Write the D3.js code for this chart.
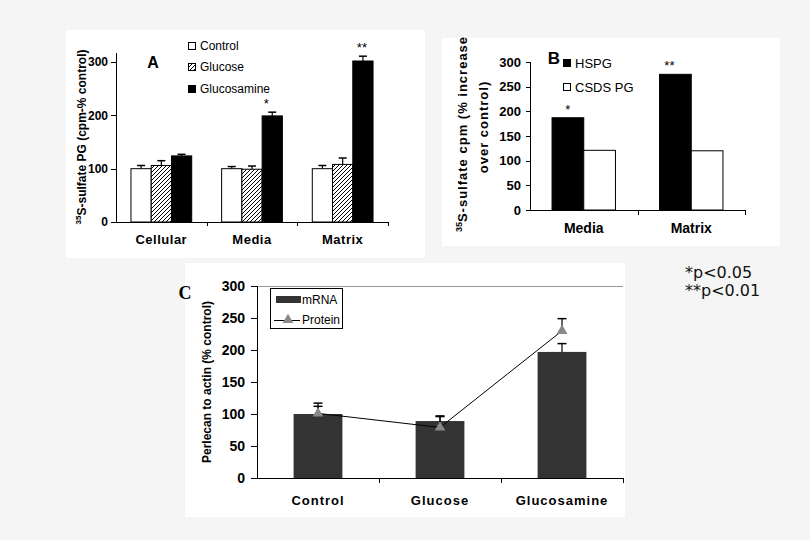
<!DOCTYPE html>
<html><head><meta charset="utf-8">
<script src="https://cdn.jsdelivr.net/npm/d3@7"></script>
<style>html,body{margin:0;padding:0;background:#f5f5f5;}svg{display:block;font-family:"Liberation Sans",Arial,sans-serif;}</style>
</head><body>
<svg id="chart" width="810" height="540"></svg>
<script>
// ---------- Panel A data ----------
const catsA = ["Cellular", "Media", "Matrix"];
const seriesA = ["Control", "Glucose", "Glucosamine"];
const controlA = [100, 100, 100];
const controlErrA = [6, 4, 6];
const glucoseA = [106, 99, 108];
const glucoseErrA = [9, 6, 12];
const glucosamineA = [124, 199, 302];
const glucosamineErrA = [3, 7, 9];
const sigA = ["", "*", "**"];
const ticksA = [0, 100, 200, 300];

// ---------- Panel B data ----------
const catsB = ["Media", "Matrix"];
const seriesB = ["HSPG", "CSDS PG"];
const hspgB = [187, 275];
const csdsB = [121, 120];
const sigB = ["*", "**"];
const ticksB = [0, 50, 100, 150, 200, 250, 300];

// ---------- Panel C data ----------
const catsC = ["Control", "Glucose", "Glucosamine"];
const seriesC = ["mRNA", "Protein"];
const mrnaC = [100, 89, 197];
const mrnaErrC = [12, 8, 13];
const proteinC = [101, 79, 230];
const proteinErrC = [16, 17, 19];
const ticksC = [0, 50, 100, 150, 200, 250, 300];

const pNotes = ["*p<0.05", "**p<0.01"];

const svg = d3.select("#chart");
svg.append("rect").attr("width", 810).attr("height", 540).attr("fill", "#f5f5f5");

const defs = svg.append("defs");
const pat = defs.append("pattern").attr("id", "hatch").attr("patternUnits", "userSpaceOnUse")
  .attr("width", 4).attr("height", 4);
pat.append("rect").attr("width", 4).attr("height", 4).attr("fill", "#fff");
pat.append("path").attr("d", "M-1,1 l2,-2 M0,4 l4,-4 M3,5 l2,-2").attr("stroke", "#000").attr("stroke-width", 1);

// white panels
[[66, 30, 359, 228], [442, 38, 338, 208], [185, 263, 440, 254]].forEach(p =>
  svg.append("rect").attr("x", p[0]).attr("y", p[1]).attr("width", p[2]).attr("height", p[3]).attr("fill", "#fff"));

function yAxis(g, y, ticks, x0, tickLen, fontSize, labelGap) {
  g.append("line").attr("x1", x0).attr("x2", x0).attr("y1", y.range()[0]).attr("y2", y.range()[1])
    .attr("stroke", "#000").attr("shape-rendering", "crispEdges");
  ticks.forEach(t => {
    g.append("line").attr("x1", x0 - tickLen).attr("x2", x0).attr("y1", Math.round(y(t)) + 0.5).attr("y2", Math.round(y(t)) + 0.5)
      .attr("stroke", "#000");
    g.append("text").attr("x", x0 - labelGap).attr("y", y(t)).attr("dy", "0.36em")
      .attr("text-anchor", "end").attr("font-weight", "bold").attr("font-size", fontSize).text(t);
  });
}
function xAxis(g, x, yPos, tickLen) {
  const [a, b] = x.range();
  g.append("line").attr("x1", a).attr("x2", b).attr("y1", yPos + 0.5).attr("y2", yPos + 0.5).attr("stroke", "#000");
  x.domain().forEach(c => {
    const xe = Math.round(x(c) + x.bandwidth()) + 0.5;
    g.append("line").attr("x1", xe).attr("x2", xe).attr("y1", yPos).attr("y2", yPos + tickLen).attr("stroke", "#000");
  });
}
function errBar(g, cx, yTop, yErr, cap) {
  g.append("line").attr("x1", cx).attr("x2", cx).attr("y1", yTop).attr("y2", yErr).attr("stroke", "#000").attr("stroke-width", 1.2);
  g.append("line").attr("x1", cx - cap / 2).attr("x2", cx + cap / 2).attr("y1", yErr).attr("y2", yErr).attr("stroke", "#000").attr("stroke-width", 1.5);
}

// ================= Panel A =================
{
  const g = svg.append("g");
  const y = d3.scaleLinear().domain([0, 317]).range([222, 53]);
  const x = d3.scaleBand().domain(catsA).range([116, 388]).padding(0);
  const x1 = d3.scaleBand().domain(seriesA).range([x.bandwidth() * 0.165, x.bandwidth() * 0.835]);
  const vals = [controlA, glucoseA, glucosamineA];
  const errs = [controlErrA, glucoseErrA, glucosamineErrA];
  const fills = ["#fff", "url(#hatch)", "#000"];
  catsA.forEach((c, i) => {
    seriesA.forEach((s, j) => {
      const bx = x(c) + x1(s), v = vals[j][i];
      g.append("rect").attr("x", bx).attr("y", y(v)).attr("width", x1.bandwidth()).attr("height", y(0) - y(v))
        .attr("fill", fills[j]).attr("stroke", "#000").attr("stroke-width", 1);
      errBar(g, bx + x1.bandwidth() / 2, y(v), y(v + errs[j][i]), 8);
    });
    if (sigA[i]) {
      const j = 2, v = vals[j][i] + errs[j][i];
      g.append("text").attr("x", x(c) + x1(seriesA[j]) + x1.bandwidth() / 2 - (sigA[i].length === 1 ? 6 : 1))
        .attr("y", y(v) - 4).attr("text-anchor", "middle").attr("font-size", 13).text(sigA[i]);
    }
  });
  yAxis(g, y, ticksA, 116, 5, 12, 8);
  xAxis(g, x, 222, 4);
  catsA.forEach(c => g.append("text").attr("x", x(c) + x.bandwidth() / 2).attr("y", 244)
    .attr("text-anchor", "middle").attr("font-weight", "bold").attr("font-size", 13).attr("letter-spacing", 0.5).text(c));
  const yl = g.append("text").attr("transform", "translate(86,137) rotate(-90)").attr("text-anchor", "middle")
    .attr("font-weight", "bold").attr("font-size", 12);
  yl.append("tspan").attr("font-size", 8).attr("dy", -5).text("35");
  yl.append("tspan").attr("dy", 5).text("S-sulfate PG (cpm-% control)");
  g.append("text").attr("x", 153).attr("y", 68).attr("text-anchor", "middle").attr("font-weight", "bold").attr("font-size", 16).text("A");
  // legend
  const ly = [46, 67, 89];
  seriesA.forEach((s, j) => {
    g.append("rect").attr("x", 188.5).attr("y", ly[j] - 3.5).attr("width", 7).attr("height", 7)
      .attr("fill", fills[j]).attr("stroke", "#000");
    g.append("text").attr("x", 200).attr("y", ly[j]).attr("dy", "0.35em").attr("font-size", 12).text(s);
  });
}

// ================= Panel B =================
{
  const g = svg.append("g");
  const y = d3.scaleLinear().domain([0, 300]).range([210, 62]);
  const x = d3.scaleBand().domain(catsB).range([530, 745]).padding(0);
  const x1 = d3.scaleBand().domain(seriesB).range([x.bandwidth() * 0.205, x.bandwidth() * 0.795]);
  const vals = [hspgB, csdsB];
  const fills = ["#000", "#fff"];
  catsB.forEach((c, i) => {
    seriesB.forEach((s, j) => {
      const v = vals[j][i];
      g.append("rect").attr("x", x(c) + x1(s)).attr("y", y(v)).attr("width", x1.bandwidth()).attr("height", y(0) - y(v))
        .attr("fill", fills[j]).attr("stroke", "#000");
    });
    g.append("text").attr("x", x(c) + x1(seriesB[0]) + x1.bandwidth() / 2 - (sigB[i].length === 1 ? 0 : 6))
      .attr("y", y(hspgB[i]) - 4).attr("text-anchor", "middle").attr("font-size", 13).text(sigB[i]);
  });
  yAxis(g, y, ticksB, 530, 4, 13, 9);
  xAxis(g, x, 210, 5);
  catsB.forEach(c => g.append("text").attr("x", x(c) + x.bandwidth() / 2).attr("y", 233)
    .attr("text-anchor", "middle").attr("font-weight", "bold").attr("font-size", 14).text(c));
  const yl = g.append("text").attr("transform", "translate(467,134) rotate(-90)").attr("text-anchor", "middle")
    .attr("font-weight", "bold").attr("font-size", 13).attr("letter-spacing", 1);
  yl.append("tspan").attr("font-size", 9).attr("letter-spacing", 0).attr("dy", -5).text("35");
  yl.append("tspan").attr("dy", 5).text("S-sulfate cpm (% increase");
  g.append("text").attr("transform", "translate(488,127) rotate(-90)").attr("text-anchor", "middle")
    .attr("font-weight", "bold").attr("font-size", 13).attr("letter-spacing", 1).text("over control)");
  g.append("text").attr("x", 554).attr("y", 64).attr("text-anchor", "middle").attr("font-weight", "bold").attr("font-size", 17).text("B");
  const ly = [63, 87];
  seriesB.forEach((s, j) => {
    g.append("rect").attr("x", 563.5).attr("y", ly[j] - 3.5).attr("width", 7).attr("height", 7)
      .attr("fill", fills[j]).attr("stroke", "#000");
    g.append("text").attr("x", 575).attr("y", ly[j]).attr("dy", "0.35em").attr("font-size", 13).text(s);
  });
}

// ================= Panel C =================
{
  const g = svg.append("g");
  const y = d3.scaleLinear().domain([0, 300]).range([478, 286]);
  const x = d3.scaleBand().domain(catsC).range([257, 623]).padding(0);
  const bw = x.bandwidth() * 0.4;
  g.append("line").attr("x1", 257).attr("x2", 623).attr("y1", 286.5).attr("y2", 286.5).attr("stroke", "#999");
  catsC.forEach((c, i) => {
    const cx = x(c) + x.bandwidth() / 2, v = mrnaC[i];
    g.append("rect").attr("x", cx - bw / 2).attr("y", y(v)).attr("width", bw).attr("height", y(0) - y(v)).attr("fill", "#333");
    errBar(g, cx, y(v), y(v + mrnaErrC[i]), 9);
  });
  const line = d3.line().x((d, i) => x(catsC[i]) + x.bandwidth() / 2).y(d => y(d));
  g.append("path").attr("d", line(proteinC)).attr("fill", "none").attr("stroke", "#000").attr("stroke-width", 1);
  const tri = d3.symbol().type(d3.symbolTriangle).size(50);
  proteinC.forEach((v, i) => {
    const cx = x(catsC[i]) + x.bandwidth() / 2;
    errBar(g, cx, y(v), y(v + proteinErrC[i]), 9);
    g.append("path").attr("d", tri()).attr("transform", `translate(${cx},${y(v)})`).attr("fill", "#888");
  });
  yAxis(g, y, ticksC, 257, 6, 14, 12);
  xAxis(g, x, 478, 5);
  catsC.forEach(c => g.append("text").attr("x", x(c) + x.bandwidth() / 2).attr("y", 505)
    .attr("text-anchor", "middle").attr("font-weight", "bold").attr("font-size", 13).attr("letter-spacing", 1).text(c));
  g.append("text").attr("transform", "translate(211,382) rotate(-90)").attr("text-anchor", "middle")
    .attr("font-weight", "bold").attr("font-size", 12).text("Perlecan to actin (% control)");
  g.append("text").attr("x", 185).attr("y", 299).attr("text-anchor", "middle").attr("font-family", "'Liberation Serif',serif")
    .attr("font-weight", "bold").attr("font-size", 18).text("C");
  // legend
  g.append("rect").attr("x", 270.5).attr("y", 288.5).attr("width", 72).attr("height", 40).attr("fill", "#fff").attr("stroke", "#000");
  g.append("rect").attr("x", 276).attr("y", 296).attr("width", 25).attr("height", 7).attr("fill", "#333");
  g.append("text").attr("x", 302).attr("y", 299.5).attr("dy", "0.35em").attr("font-size", 12).text(seriesC[0]);
  g.append("line").attr("x1", 274).attr("x2", 300).attr("y1", 320.5).attr("y2", 320.5).attr("stroke", "#000");
  g.append("path").attr("d", tri()).attr("transform", "translate(288,320)").attr("fill", "#888");
  g.append("text").attr("x", 302).attr("y", 320).attr("dy", "0.35em").attr("font-size", 12).text(seriesC[1]);
}

// p-value notes
pNotes.forEach((t, i) => svg.append("text").attr("x", 685).attr("y", 278 + i * 18)
  .attr("font-family", "'DejaVu Sans',sans-serif").attr("font-size", 16).attr("fill", "#111").text(t));
</script>
</body></html>
